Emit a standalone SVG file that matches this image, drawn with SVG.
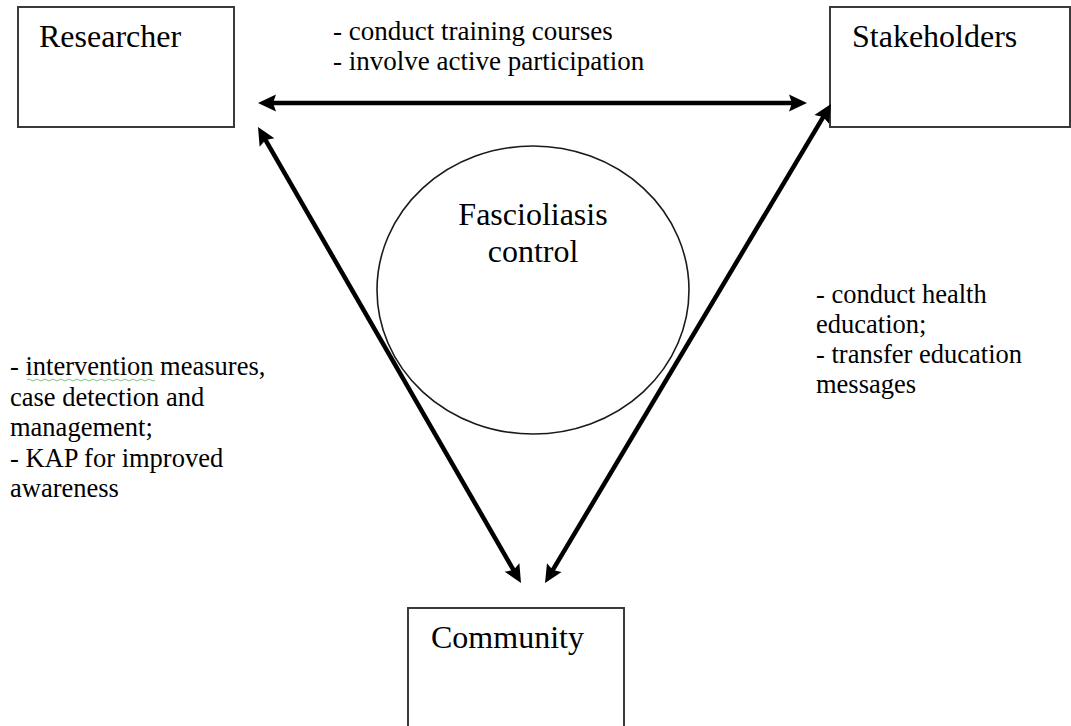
<svg xmlns="http://www.w3.org/2000/svg" width="1071" height="726" viewBox="0 0 1071 726">
  <style>
    .box { fill: #ffffff; stroke: #3a3a3a; stroke-width: 2; }
    .hub { fill: none; stroke: #1a1a1a; stroke-width: 1.6; }
    .title { font-family: "Liberation Serif", "DejaVu Serif", serif; font-size: 32px; fill: #000000; }
    .note { font-family: "Liberation Serif", "DejaVu Serif", serif; font-size: 26.5px; fill: #000000; }
    .top { font-size: 27px; }
    .link { stroke: #000000; stroke-width: 4.5; fill: none; marker-start: url(#head); marker-end: url(#head); }
  </style>
  <defs>
    <marker id="head" markerUnits="userSpaceOnUse" markerWidth="18" markerHeight="17" refX="6" refY="8.5" orient="auto-start-reverse" overflow="visible">
      <path d="M0,0 L18,8.5 L0,17 L3,8.5 z" fill="#000000"/>
    </marker>
  </defs>

  <rect width="1071" height="726" fill="#ffffff"/>

  <!-- actors -->
  <g id="researcher">
    <rect class="box" x="18" y="7" width="216" height="120"/>
    <text class="title" x="39" y="47">Researcher</text>
  </g>

  <g id="stakeholders">
    <rect class="box" x="830" y="7" width="240" height="120"/>
    <text class="title" x="852" y="47">Stakeholders</text>
  </g>

  <g id="community">
    <rect class="box" x="408" y="608" width="216" height="130"/>
    <text class="title" x="431" y="648">Community</text>
  </g>

  <!-- two-way relations -->
  <g id="connectors">
    <line class="link" x1="270" y1="103" x2="795" y2="103"/>
    <line class="link" x1="264" y1="137.4" x2="515" y2="572.6"/>
    <line class="link" x1="824.8" y1="114.3" x2="551.2" y2="572.7"/>
  </g>

  <!-- central goal -->
  <g id="fasciolasis-control">
    <ellipse class="hub" cx="533" cy="290" rx="156" ry="144"/>
    <text class="title" x="533" y="225" text-anchor="middle">Fascioliasis</text>
    <text class="title" x="533" y="262" text-anchor="middle">control</text>
  </g>

  <!-- relation labels -->
  <g id="label-researcher-stakeholders">
    <text class="note top" x="333" y="40">- conduct training courses</text>
    <text class="note top" x="333" y="70">- involve active participation</text>
  </g>

  <g id="label-researcher-community">
    <text class="note" x="10" y="375">- intervention measures,</text>
    <text class="note" x="10" y="406">case detection and</text>
    <text class="note" x="10" y="436">management;</text>
    <text class="note" x="10" y="467">- KAP for improved</text>
    <text class="note" x="10" y="497">awareness</text>
    <path d="M27,380 q2,-2 4,0 t4,0 t4,0 t4,0 t4,0 t4,0 t4,0 t4,0 t4,0 t4,0 t4,0 t4,0 t4,0 t4,0 t4,0 t4,0 t4,0 t4,0 t4,0 t4,0 t4,0 t4,0 t4,0 t4,0 t4,0 t4,0 t4,0 t4,0 t4,0 t4,0 t4,0 t4,0" fill="none" stroke="#7cc47c" stroke-width="1"/>
  </g>

  <g id="label-stakeholders-community">
    <text class="note" x="816" y="303">- conduct health</text>
    <text class="note" x="816" y="333">education;</text>
    <text class="note" x="816" y="363">- transfer education</text>
    <text class="note" x="816" y="393">messages</text>
  </g>
</svg>
